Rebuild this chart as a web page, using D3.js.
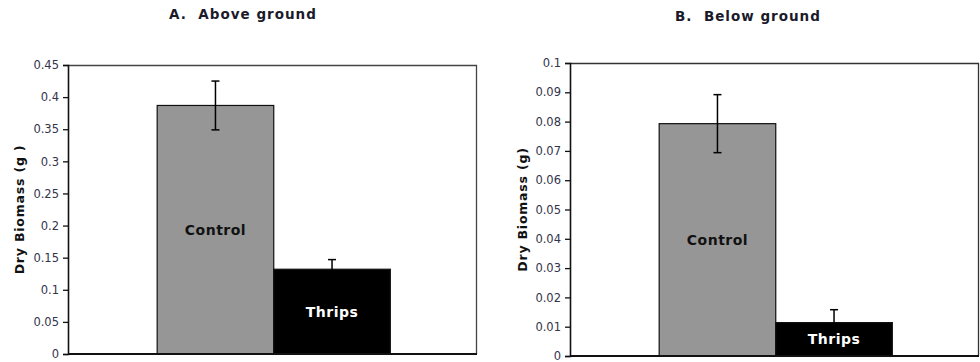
<!DOCTYPE html>
<html>
<head>
<meta charset="utf-8">
<script src="https://cdn.jsdelivr.net/npm/d3@7"></script>
<style>
	body { margin: 0; background: #fff; }
	svg text { font-family: "DejaVu Sans", Verdana, sans-serif; }
</style>
</head>
<body>
<svg width="980" height="362"></svg>
<script>
// data
var groups = ["Control", "Thrips"];
var aboveMeans = [0.387, 0.132];
var aboveErrs = [0.038, 0.015];
var belowMeans = [0.0793, 0.0114];
var belowErrs = [0.0099, 0.0044];
var aboveTicks = [0, 0.05, 0.1, 0.15, 0.2, 0.25, 0.3, 0.35, 0.4, 0.45];
var belowTicks = [0, 0.01, 0.02, 0.03, 0.04, 0.05, 0.06, 0.07, 0.08, 0.09, 0.1];

var svg = d3.select("svg");

function drawPanel(opt) {
	var data = groups.map(function(g, i) {
		return { name: g, value: opt.means[i], err: opt.errs[i] };
	});

	var x = d3.scaleBand().domain(groups)
		.range([opt.left, opt.right])
		.paddingInner(0).paddingOuter(0.75).align(0.51);
	var y = d3.scaleLinear().domain([0, opt.max]).range([opt.bottom, opt.top]);

	var g = svg.append("g");

	// frame (top + right)
	g.append("path")
		.attr("d", "M" + opt.left + "," + (opt.top + 0.5) + "H" + (opt.right + 0.5) + "V" + opt.bottom)
		.attr("fill", "none")
		.attr("stroke", opt.frameColor)
		.attr("stroke-width", 1.3);

	g.selectAll(".bar")
		.data(data)
		.enter().append("rect")
		.attr("class", "bar")
		.attr("x", function(d) { return x(d.name); })
		.attr("width", x.bandwidth())
		.attr("y", function(d) { return y(d.value); })
		.attr("height", function(d) { return y(0) - y(d.value); })
		.attr("fill", function(d, i) { return i == 0 ? "#969696" : "#000"; })
		.attr("stroke", "#111")
		.attr("stroke-width", 1.2);

	// error bars
	var eb = g.selectAll(".err")
		.data(data)
		.enter().append("g")
		.attr("class", "err")
		.attr("stroke", "#000")
		.attr("stroke-width", 1.5);
	eb.append("line")
		.attr("x1", function(d) { return x(d.name) + x.bandwidth() / 2; })
		.attr("x2", function(d) { return x(d.name) + x.bandwidth() / 2; })
		.attr("y1", function(d) { return y(d.value + d.err); })
		.attr("y2", function(d) { return y(d.value - d.err); });
	eb.append("line")
		.attr("x1", function(d) { return x(d.name) + x.bandwidth() / 2 - 4; })
		.attr("x2", function(d) { return x(d.name) + x.bandwidth() / 2 + 4; })
		.attr("y1", function(d) { return y(d.value + d.err); })
		.attr("y2", function(d) { return y(d.value + d.err); });
	eb.append("line")
		.attr("x1", function(d) { return x(d.name) + x.bandwidth() / 2 - 4; })
		.attr("x2", function(d) { return x(d.name) + x.bandwidth() / 2 + 4; })
		.attr("y1", function(d) { return y(d.value - d.err); })
		.attr("y2", function(d) { return y(d.value - d.err); });

	// labels inside bars
	g.selectAll(".blabel")
		.data(data)
		.enter().append("text")
		.attr("class", "blabel")
		.attr("x", function(d) { return x(d.name) + x.bandwidth() / 2; })
		.attr("y", function(d) { return (y(d.value) + y(0)) / 2; })
		.attr("dy", "0.36em")
		.attr("text-anchor", "middle")
		.attr("font-size", 14)
		.attr("font-weight", "bold")
		.attr("letter-spacing", 0.5)
		.attr("fill", function(d, i) { return i == 0 ? "#111" : "#fff"; })
		.text(function(d) { return d.name; });

	// axes
	var yAxis = g.append("g")
		.attr("transform", "translate(" + opt.left + ",0)")
		.call(d3.axisLeft(y).tickValues(opt.ticks).tickSize(5).tickPadding(4)
			.tickFormat(function(d) { return String(+d.toFixed(3)); }));
	yAxis.select(".domain").attr("stroke", "#111").attr("stroke-width", 1.6);
	yAxis.selectAll(".tick line").attr("stroke", "#111").attr("stroke-width", 1.3);
	yAxis.selectAll(".tick text")
		.attr("font-size", 11.5)
		.attr("font-family", "DejaVu Sans")
		.attr("fill", "#33334a");

	g.append("line")
		.attr("x1", opt.left).attr("x2", opt.right + 1)
		.attr("y1", opt.bottom).attr("y2", opt.bottom)
		.attr("stroke", "#111")
		.attr("stroke-width", 1.8);

	g.append("text")
		.attr("transform", "translate(" + opt.labelX + "," + ((opt.top + opt.bottom) / 2) + ") rotate(-90)")
		.attr("dy", "0.36em")
		.attr("text-anchor", "middle")
		.attr("font-size", 12.5)
		.attr("font-weight", "bold")
		.attr("letter-spacing", 0.8)
		.attr("fill", "#111")
		.text(opt.yLabel);

	g.append("text")
		.attr("x", opt.titleX)
		.attr("y", opt.titleY)
		.attr("text-anchor", "middle")
		.attr("font-size", 13.5)
		.attr("font-weight", "bold")
		.attr("letter-spacing", 1)
		.attr("fill", "#1a1a2a")
		.attr("xml:space", "preserve")
		.style("white-space", "pre")
		.text(opt.title);
}

drawPanel({
	means: aboveMeans, errs: aboveErrs, ticks: aboveTicks, max: 0.45,
	left: 68, right: 476, top: 65, bottom: 354,
	labelX: 19, yLabel: "Dry Biomass (g )",
	title: "A.  Above ground", titleX: 243, titleY: 19,
	frameColor: "#444"
});

drawPanel({
	means: belowMeans, errs: belowErrs, ticks: belowTicks, max: 0.1,
	left: 570, right: 978, top: 63, bottom: 356,
	labelX: 522, yLabel: "Dry Biomass (g)",
	title: "B.  Below ground", titleX: 748, titleY: 21,
	frameColor: "#333"
});
</script>
</body>
</html>
